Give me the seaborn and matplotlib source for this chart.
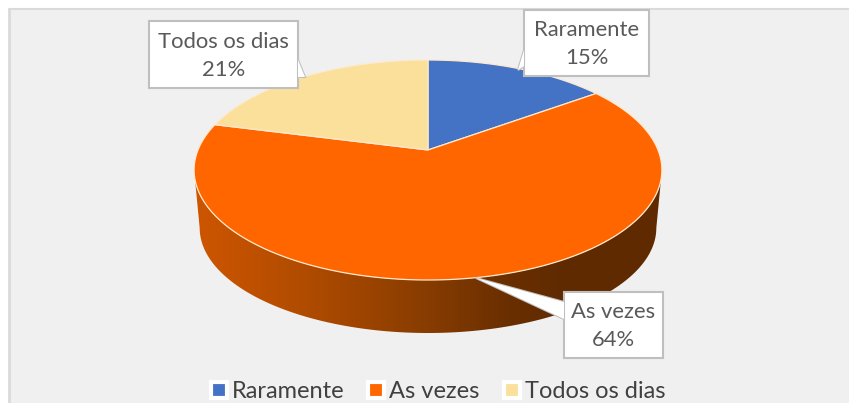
import matplotlib
matplotlib.use("Agg")
import matplotlib.pyplot as plt
import numpy as np
import seaborn as sns
from matplotlib.lines import Line2D
from matplotlib.patches import Polygon

categories = ["Raramente", "As vezes", "Todos os dias"]
shares = [15, 64, 21]
colors = ["#4472C4", "#FF6600", "#FAE09A"]

W, H = 849, 403
PANEL = "#F0F0F0"
LABEL = "#595959"
KEEP = 0.182  # perspective of the tilted disc


def project(theta, cx, cy, a, b):
    d = 1 + KEEP * np.cos(theta)
    return cx + a * np.sin(theta) / d, cy - (b * np.cos(theta) + KEEP * b) / d


def callout(ax, box, pointer, name, share):
    x0, y0, x1, y1 = box
    ax.add_patch(Polygon(pointer, closed=True, fc="white", ec="#BFBFBF", lw=1.5, zorder=5))
    ax.fill([x0, x1, x1, x0], [y0, y0, y1, y1], fc="white", ec="#BFBFBF", lw=1.5, zorder=6)
    # hide the pointer base inside the box
    ax.add_patch(Polygon(pointer, closed=True, fc="white", ec="none", zorder=7))
    ax.text((x0 + x1) / 2, (y0 + y1) / 2 + 1, f"{name}\n{share}%", ha="center", va="center",
            fontsize=15.8, color=LABEL, linespacing=1.5, zorder=8)


sns.set_theme(style="white")
plt.rcParams["font.family"] = ["Lato", "DejaVu Sans"]
palette = sns.color_palette(colors)

fig = plt.figure(figsize=(W / 100, H / 100), dpi=100, facecolor="white")
ax = fig.add_axes([0, 0, 1, 1])
ax.set_axis_off()

# panel with its light frame on the top and left
ax.fill([9, W, W, 9], [9, 9, H, H], fc=PANEL, ec="none", zorder=0)
ax.plot([9, 9], [H, 9], color="#DADADA", lw=2, zorder=1)
ax.plot([9, W], [9, 9], color="#DADADA", lw=1.5, zorder=1)

# side wall: shaded from left to right, clipped to the rim outline
t_rim = np.linspace(np.radians(100.5), np.radians(259.5), 200)
up_x, up_y = project(t_rim, 428, 170, 230, 110)
lo_x, lo_y = project(t_rim, 428, 228, 224.5, 105)
wall = Polygon(np.r_[np.c_[up_x, up_y], np.c_[lo_x, lo_y][::-1]], closed=True, fc="none", ec="none")
ax.add_patch(wall)
px = np.arange(190, 670)
shade = np.stack([np.interp(px, [200, 300, 420, 500, 560], s) for s in
                  [[204, 178, 138, 108, 96], [85, 76, 61, 48, 42], [0, 0, 0, 0, 0]]], axis=-1)[None] / 255
img = ax.imshow(shade, extent=[190, 670, 340, 160], aspect="auto", zorder=2, interpolation="bilinear")
img.set_clip_path(wall)

# top face, slices clockwise from twelve o'clock
edges = np.cumsum([0] + shares) / sum(shares) * 2 * np.pi
apex = (428, 170 - KEEP * 110)
for start, stop, col in zip(edges[:-1], edges[1:], palette):
    t = np.linspace(start, stop, 200)
    xs, ys = project(t, 428, 170, 230, 110)
    ax.fill(np.r_[apex[0], xs], np.r_[apex[1], ys], fc=col, ec="#FFE9CF", lw=0.9, zorder=3)

callout(ax, (149, 21, 298, 88), [(298, 60), (305, 77), (298, 77)], categories[2], shares[2])
callout(ax, (524, 10, 649, 76), [(524, 50), (518, 70), (524, 66)], categories[0], shares[0])
callout(ax, (564, 292, 663, 358), [(564, 302), (476, 278), (564, 319)], categories[1], shares[1])

ax.set_xlim(0, W)
ax.set_ylim(H, 0)

handles = [Line2D([], [], ls="none", marker="s", ms=11, mfc=c, mec="white", mew=3) for c in palette]
leg = ax.legend(handles, categories, ncol=3, frameon=False, loc="center", bbox_to_anchor=(436 / W, 1 - 392 / H),
                fontsize=17, labelcolor="#404040", handletextpad=0.05, columnspacing=0.85,
                borderpad=0, handlelength=1.0)

fig.savefig("out.png", dpi=100, facecolor="white")
